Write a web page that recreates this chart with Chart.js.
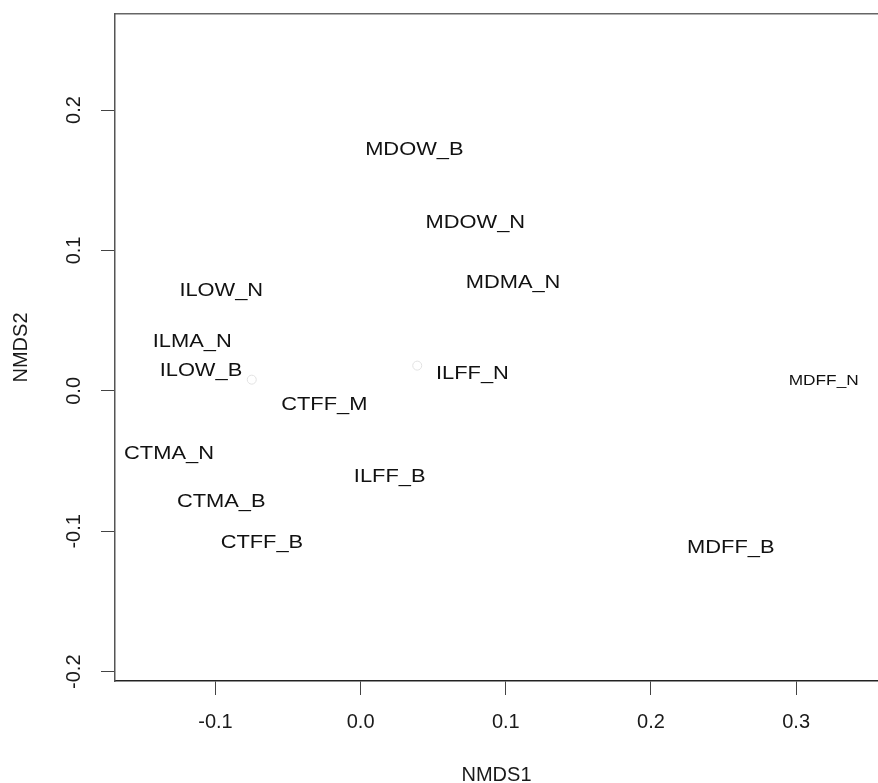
<!DOCTYPE html>
<html>
<head>
<meta charset="utf-8">
<script src="https://cdn.jsdelivr.net/npm/chart.js@4.4.1/dist/chart.umd.min.js"></script>
<style>
  html, body { margin: 0; padding: 0; background: #fff; }
  #wrap { width: 878px; height: 783px; }
</style>
</head>
<body>
<div id="wrap"><canvas id="myChart"></canvas></div>
<script>
const sites = ['MDOW_B', 'MDOW_N', 'MDMA_N', 'ILOW_N', 'ILMA_N', 'ILOW_B', 'ILFF_N', 'MDFF_N', 'CTFF_M', 'CTMA_N', 'ILFF_B', 'CTMA_B', 'CTFF_B', 'MDFF_B'];
const nmds1 = [0.037, 0.079, 0.105, -0.096, -0.116, -0.110, 0.077, 0.319, -0.025, -0.132, 0.020, -0.096, -0.068, 0.255];
const nmds2 = [0.172, 0.120, 0.077, 0.071, 0.035, 0.014, 0.012, 0.007, -0.010, -0.045, -0.061, -0.079, -0.108, -0.112];
// two faint point markers that show through in the original
const faintX = [-0.075, 0.039];
const faintY = [0.008, 0.018];
const xTicks = [-0.1, 0.0, 0.1, 0.2, 0.3];
const yTicks = [-0.2, -0.1, 0.0, 0.1, 0.2];

const FONT = '"Liberation Sans", Arial, sans-serif';
const smallLabels = ['MDFF_N'];

function fmt(v) {
    return Math.abs(v) < 1e-9 ? '0.0' : v.toFixed(1);
}

// no extra label padding, so the plot box stays where R put it
function noPad(s) {
    s.paddingTop = 0;
    s.paddingBottom = 0;
    s.paddingLeft = 0;
    s.paddingRight = 0;
}

// draws the site names at their points
const siteLabels = {
    id: 'siteLabels',
    afterDatasetsDraw(chart) {
        const c = chart.ctx;
        const meta = chart.getDatasetMeta(0);
        c.save();
        c.fillStyle = '#111';
        c.textAlign = 'center';
        c.textBaseline = 'middle';
        meta.data.forEach((pt, i) => {
            const name = sites[i];
            const size = smallLabels.includes(name) ? 15 : 19;
            c.font = size + 'px ' + FONT;
            c.save();
            c.translate(pt.x, pt.y);
            c.scale(1.15, 1);
            c.fillText(name, 0, 0);
            c.restore();
        });
        c.restore();
    }
};

const ctx = document.getElementById('myChart');

new Chart(ctx, {
    type: 'scatter',
    data: {
        datasets: [{
            label: 'sites',
            data: sites.map((s, i) => ({ x: nmds1[i], y: nmds2[i] })),
            pointRadius: 0,
            pointHoverRadius: 0
        }, {
            label: 'faint',
            data: faintX.map((x, i) => ({ x: x, y: faintY[i] })),
            pointRadius: 4.5,
            pointHoverRadius: 4.5,
            borderWidth: 1,
            borderColor: '#e2e2e2',
            backgroundColor: 'rgba(0,0,0,0)'
        }]
    },
    options: {
        responsive: true,
        maintainAspectRatio: false,
        animation: false,
        layout: { autoPadding: false, padding: { top: 14, left: 0, right: 0, bottom: 0 } },
        plugins: {
            legend: { display: false },
            tooltip: { enabled: false }
        },
        scales: {
            x: {
                type: 'linear',
                position: 'bottom',
                min: -0.1692,
                max: 0.3564,
                afterFit(s) { s.height = 102; noPad(s); },
                afterBuildTicks(s) { s.ticks = xTicks.map(v => ({ value: v })); },
                grid: { drawOnChartArea: false, drawTicks: true, tickLength: 14, color: '#444', lineWidth: 1 },
                border: { display: true, color: '#222', width: 1.5 },
                ticks: {
                    color: '#1a1a1a',
                    padding: 15,
                    maxRotation: 0,
                    font: { family: FONT, size: 20 },
                    callback: v => fmt(v)
                },
                title: {
                    display: true,
                    text: 'NMDS1',
                    color: '#1a1a1a',
                    padding: 0,
                    font: { family: FONT, size: 20, lineHeight: 0.8 }
                }
            },
            x2: {
                type: 'linear',
                position: 'top',
                min: -0.1692,
                max: 0.3564,
                afterFit(s) { s.height = 0; noPad(s); },
                grid: { display: false },
                ticks: { display: false },
                border: { display: true, color: '#666', width: 1.5 }
            },
            y: {
                type: 'linear',
                position: 'left',
                min: -0.2066,
                max: 0.2684,
                afterFit(s) { s.width = 115; noPad(s); },
                afterBuildTicks(s) { s.ticks = yTicks.map(v => ({ value: v })); },
                grid: { drawOnChartArea: false, drawTicks: true, tickLength: 14, color: '#444', lineWidth: 1 },
                border: { display: true, color: '#555', width: 1.5 },
                ticks: {
                    color: '#1a1a1a',
                    padding: 9,
                    minRotation: 90,
                    maxRotation: 90,
                    crossAlign: 'center',
                    font: { family: FONT, size: 20 },
                    callback: v => fmt(v)
                },
                title: {
                    display: true,
                    text: 'NMDS2',
                    color: '#1a1a1a',
                    padding: { top: 9, bottom: 0 },
                    font: { family: FONT, size: 20 }
                }
            }
        }
    },
    plugins: [siteLabels]
});
</script>
</body>
</html>
